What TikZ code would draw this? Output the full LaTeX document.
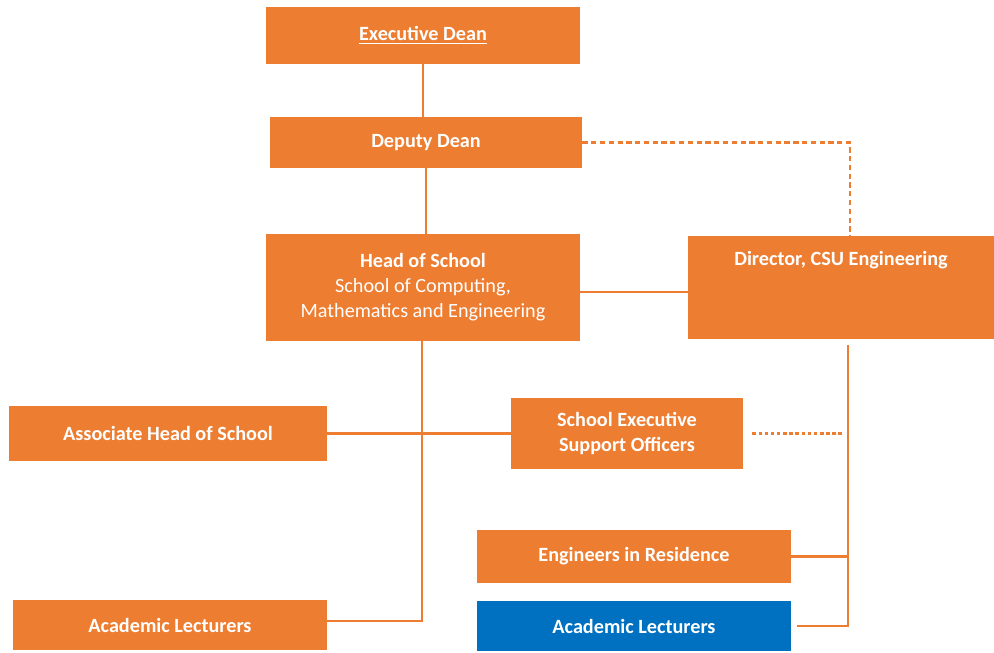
\documentclass[tikz,border=0pt]{standalone}
\usepackage{fontspec}
\setmainfont{Carlito}
\definecolor{csuorange}{HTML}{ED7D31}
\definecolor{csublue}{HTML}{0070C0}
\tikzset{
  unit/.style={fill=csuorange,text=white,font=\fontsize{11.5}{14.2}\selectfont\bfseries,align=center,inner sep=0pt},
  link/.style={draw=csuorange,line width=1.3pt},
}

\begin{document}
\begin{tikzpicture}
  \useasboundingbox (0,0) rectangle (19.88,13.04);
  \node[unit,minimum width=6.28cm,minimum height=1.14cm] (exec) at (8.46,12.33) {\underline{Executive Dean}};
  \node[unit,minimum width=6.24cm,minimum height=1.02cm] (deputy) at (8.52,10.19) {Deputy Dean};
  \node[unit,minimum width=6.28cm,minimum height=2.14cm] (head) at (8.46,7.29) {Head of School\\\mdseries School of Computing,\\\mdseries Mathematics and Engineering};
  \node[unit,minimum width=6.12cm,text height=0.6cm,text depth=1.46cm] (director) at (16.82,7.29) {Director, CSU Engineering};
  \node[unit,minimum width=6.36cm,minimum height=1.1cm] (assoc) at (3.36,4.37) {Associate Head of School};
  \node[unit,minimum width=4.64cm,minimum height=1.42cm] (support) at (12.54,4.37) {School Executive\\Support Officers};
  \node[unit,minimum width=6.28cm,minimum height=1.06cm] (engineers) at (12.68,1.91) {Engineers in Residence};
  \node[unit,fill=csublue,minimum width=6.28cm,minimum height=1cm] (lectB) at (12.68,0.52) {Academic Lecturers};
  \node[unit,minimum width=6.28cm,minimum height=1cm] (lectA) at (3.40,0.54) {Academic Lecturers};
  \coordinate (dirline) at ([xshift=0.14cm,yshift=-0.12cm]director.south);

  \draw[link] (exec.south) -- (exec.south |- deputy.north);
  \draw[link] (deputy.south) -- (deputy.south |- head.north);
  \draw[link,dash pattern=on 3pt off 2pt] (deputy.east) -| ([xshift=0.18cm]director.north);
  \draw[link] ([yshift=-0.09cm]head.east) -- ([yshift=-0.09cm]director.west);
  \draw[link] ([xshift=-0.02cm]head.south) |- ([yshift=0.08cm]lectA.east);
  \draw[link] (assoc) -- (support);
  \draw[link,dash pattern=on 2pt off 1.5pt] ([xshift=0.18cm]support.east) -- ([xshift=-0.12cm]support.east -| dirline);
  \draw[link] (dirline) |- ([xshift=0.12cm]lectB.east);
  \draw[link] (engineers.east) -- (engineers.east -| dirline);
\end{tikzpicture}
\end{document}
